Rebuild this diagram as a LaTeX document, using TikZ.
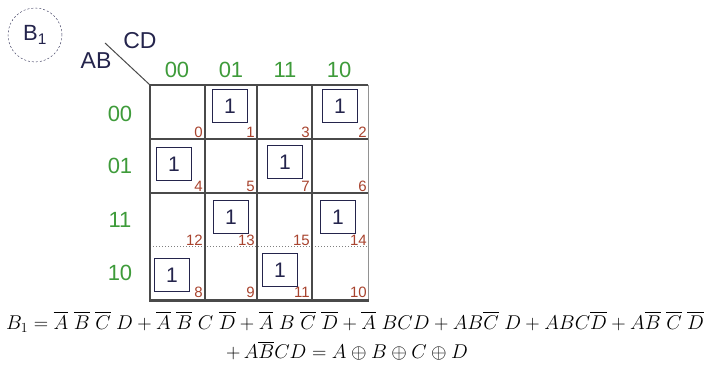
\documentclass[tikz,border=0pt]{standalone}
\usepackage{fontspec}
\setsansfont{Liberation Sans}
\usetikzlibrary{positioning, calc}
\usepackage{amsmath}
\usepackage{xcolor}
\definecolor{kmgreen}{HTML}{3E9B3A}
\definecolor{kmred}{HTML}{A8432E}
\definecolor{kmnavy}{HTML}{24244C}
\definecolor{kmgrid}{HTML}{4A4A4A}
\definecolor{kmbox}{HTML}{6A6A6A}

\begin{document}
\begin{tikzpicture}[x=1pt, y=-1pt,
    head/.style={color=kmgreen, font=\sffamily\fontsize{22}{22}\selectfont},
    var/.style={color=kmnavy, font=\sffamily\fontsize{23}{23}\selectfont},
    cellnum/.style={color=kmred, font=\sffamily\fontsize{15}{15}\selectfont, anchor=south east, inner sep=1pt},
    onebox/.style={draw=kmbox, line width=1.1pt, color=kmnavy, minimum width=35, minimum height=33, inner sep=0pt, font=\sffamily\fontsize{21}{21}\selectfont},
    gridline/.style={draw=kmgrid, line width=1.2pt},
    eqline/.style={font=\fontsize{17.28}{20}\selectfont}]
    \useasboundingbox (0,0) rectangle (715,366);
    \node[draw=kmgrid, dash pattern=on 2pt off 2pt, circle, minimum size=54, color=kmnavy, font=\sffamily\fontsize{22}{22}\selectfont] (bone) at (35,35) {B\textsubscript{1}};
    \coordinate (corner) at (150,85);
    \coordinate (slash) at (105,43);
    \draw[kmgrid, line width=1pt] (slash) -- (corner);
    \node[var] (cd) at (140,41) {CD};
    \node[var] (ab) at (96,61) {AB};
    \node[head] (c00) at (177,70) {00};
    \node[head] (c01) at (231,70) {01};
    \node[head] (c11) at (285,70) {11};
    \node[head] (c10) at (339,70) {10};
    \node[head] (r00) at (120,114) {00};
    \node[head] (r01) at (120,166) {01};
    \node[head] (r11) at (120,220) {11};
    \node[head] (r10) at (120,273) {10};
    \draw[gridline] (150,85) -- (368,85);
    \draw[gridline] (150,139) -- (368,139);
    \draw[gridline] (150,193) -- (368,193);
    \draw[kmgrid!70, line width=1pt, dotted] (150,247) -- (368,247);
    \foreach \x in {150,205,257,312}
      \draw[gridline] (\x,85) -- (\x,300);
    \draw[kmgrid!60, line width=1pt] (368,85) -- (368,300);
    \draw[kmgrid, line width=3pt] (149,300) -- (369,300);
    \foreach \n/\xr/\yb in {0/204/139, 1/256/139, 3/311/139, 2/368/139,
                           4/204/193, 5/256/193, 7/311/193, 6/368/193,
                           12/204/247, 13/256/247, 15/311/247, 14/368/247,
                           8/204/299, 9/256/299, 11/311/299, 10/368/299}
      \node[cellnum] (num\n) at (\xr,\yb) {\n};
    \node[onebox] (one1) at (230,106) {1};
    \node[onebox] (one2) at (340,106) {1};
    \node[onebox] (one4) at (174,164) {1};
    \node[onebox] (one7) at (285,162) {1};
    \node[onebox] (one13) at (231,217) {1};
    \node[onebox] (one14) at (338,217) {1};
    \node[onebox] (one8) at (172,275) {1};
    \node[onebox] (one11) at (280,270) {1};
    \node[eqline] (eqone) at (355,322)
      {\scalebox{1.155}{$B_1 = \overline{A}\;\overline{B}\;\overline{C}\;D + \overline{A}\;\overline{B}\;C\;\overline{D} + \overline{A}\;B\;\overline{C}\;\overline{D} + \overline{A}\;BCD + AB\overline{C}\;D + ABC\overline{D} + A\overline{B}\;\overline{C}\;\overline{D}$}};
    \node[eqline] (eqtwo) at (347,351)
      {\scalebox{1.155}{$+\, A\overline{B}CD = A \oplus B \oplus C \oplus D$}};
\end{tikzpicture}
\end{document}
